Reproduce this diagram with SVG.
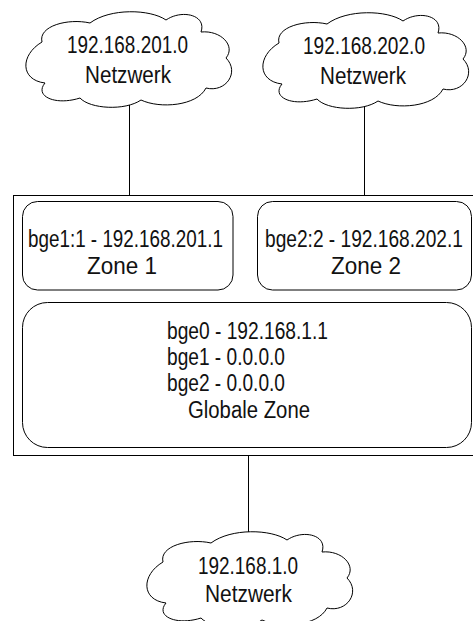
<svg xmlns="http://www.w3.org/2000/svg" width="473" height="621" viewBox="0 0 473 621">
  <style>
    .box { fill: #ffffff; stroke: #000000; stroke-width: 1; }
    .cloud { fill: #ffffff; stroke: #000000; stroke-width: 1; }
    .link { fill: none; stroke: #000000; stroke-width: 1; }
    .lbl { font-family: "Liberation Sans", Arial, sans-serif; font-size: 23.5px; fill: #111111; }
  </style>
  <defs>
    <!-- cloud outline, bounding box roughly x 25..230, y 12..107 -->
    <path id="cloudShape" d="M 42,42
      C 38,26 68,18 90,23
      C 110,8 150,9 166,20
      C 182,9 207,15 201,32
      C 221,30 236,46 226,58
      C 240,72 226,93 206,88
      C 197,106 160,109 141,100
      C 125,111 90,109 80,98
      C 55,106 34,96 45,83
      C 20,80 20,55 42,42 Z"/>
  </defs>

  <!-- connectors -->
  <g id="connectors">
    <line class="link" x1="129.5" y1="100" x2="129.5" y2="201"/>
    <line class="link" x1="364.5" y1="100" x2="364.5" y2="201"/>
    <line class="link" x1="248.5" y1="447" x2="248.5" y2="534"/>
  </g>

  <!-- host frame -->
  <g id="host">
    <rect class="box" x="13.5" y="195.5" width="475" height="260"/>
  </g>

  <g id="zone1">
    <rect class="box" x="22.5" y="201.5" width="210.5" height="88.5" rx="15" ry="15"/>
    <text class="lbl" transform="translate(28,247) scale(0.802,1)">bge1:1 - 192.168.201.1</text>
    <text class="lbl" x="87" y="274" textLength="70" lengthAdjust="spacingAndGlyphs">Zone 1</text>
  </g>

  <g id="zone2">
    <rect class="box" x="257.5" y="201.5" width="214" height="88.5" rx="15" ry="15"/>
    <text class="lbl" transform="translate(265,247) scale(0.815,1)">bge2:2 - 192.168.202.1</text>
    <text class="lbl" x="331" y="274" textLength="70" lengthAdjust="spacingAndGlyphs">Zone 2</text>
  </g>

  <g id="global-zone">
    <rect class="box" x="22.5" y="302.5" width="449" height="145" rx="25" ry="25"/>
    <text class="lbl" x="167" y="339" textLength="161" lengthAdjust="spacingAndGlyphs">bge0 - 192.168.1.1</text>
    <text class="lbl" x="167" y="365" textLength="118" lengthAdjust="spacingAndGlyphs">bge1 - 0.0.0.0</text>
    <text class="lbl" x="167" y="391" textLength="118" lengthAdjust="spacingAndGlyphs">bge2 - 0.0.0.0</text>
    <text class="lbl" x="188" y="418" textLength="122" lengthAdjust="spacingAndGlyphs">Globale Zone</text>
  </g>

  <g id="net-201">
    <use href="#cloudShape" class="cloud"/>
    <text class="lbl" x="67" y="53" textLength="121" lengthAdjust="spacingAndGlyphs">192.168.201.0</text>
    <text class="lbl" x="85" y="83" textLength="86" lengthAdjust="spacingAndGlyphs">Netzwerk</text>
  </g>

  <g id="net-202">
    <use href="#cloudShape" class="cloud" transform="translate(237,1)"/>
    <text class="lbl" x="303" y="54" textLength="122" lengthAdjust="spacingAndGlyphs">192.168.202.0</text>
    <text class="lbl" x="320" y="84" textLength="86" lengthAdjust="spacingAndGlyphs">Netzwerk</text>
  </g>

  <g id="net-1">
    <use href="#cloudShape" class="cloud" transform="translate(121,520)"/>
    <text class="lbl" x="198" y="574" textLength="100" lengthAdjust="spacingAndGlyphs">192.168.1.0</text>
    <text class="lbl" x="205" y="602" textLength="87" lengthAdjust="spacingAndGlyphs">Netzwerk</text>
  </g>
</svg>
